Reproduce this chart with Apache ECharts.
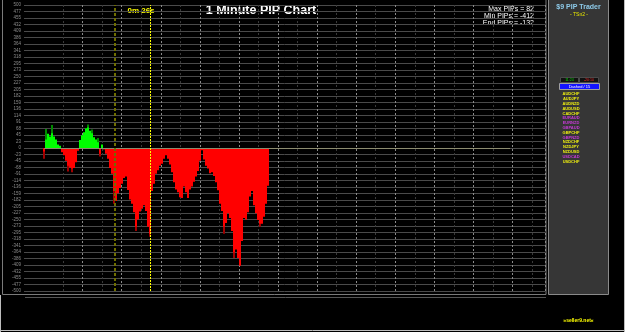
<!DOCTYPE html>
<html>
<head>
<meta charset="utf-8">
<script src="https://cdn.jsdelivr.net/npm/echarts@6/dist/echarts.min.js"></script>
<style>
html,body{margin:0;padding:0;background:#000}
#chart{width:625px;height:332px}
</style>
</head>
<body>
<div id="chart"></div>
<script>
// pips per 1-minute sample, oldest first
const pips = [
  -12, 30, 50, 40, 52, 40, 30, 12, 8, -15,
  -25, -45, -62, -68, -72, -70, -50, -10, 28, 45,
  55, 68, 72, 60, 52, 38, 30, 20, -20, 12,
  -5, -20, -38, -70, -90, -150, -185, -158, -140, -125,
  -105, -100, -147, -180, -195, -225, -275, -250, -222, -212,
  -200, -220, -275, -300, -150, -125, -90, -78, -62, -55,
  -38, -25, -38, -58, -85, -120, -145, -155, -172, -175,
  -135, -155, -175, -145, -135, -118, -100, -80, -45, -8,
  -40, -62, -72, -88, -85, -98, -120, -148, -195, -220,
  -275, -262, -228, -245, -290, -365, -355, -385, -412, -325,
  -245, -250, -225, -170, -150, -200, -228, -252, -265, -265,
  -240, -195, -132
]
// extreme spikes (sample index -> pips)
const wickIdx = [0, 1, 4, 12, 14, 21, 22, 24, 27, 28, 35, 46, 53, 90, 95, 108]
const wickPips = [-38, 66, 80, -82, -85, 70, 82, 65, 35, -30, -195, -290, -310, -300, -385, -275]

const pairs = ['AUDCHF','AUDJPY','AUDNZD','AUDUSD','CADCHF','EURAUD','EURNZD','GBPAUD',
  'GBPCHF','GBPNZD','NZDCHF','NZDJPY','NZDUSD','USDCAD','USDCHF']
const altPairs = ['EURAUD','EURNZD','GBPAUD','GBPNZD','USDCAD']

const elapsed = '0m 26s'
const clockUp = '11:24'
const clockDown = '-20:10'
const modeLabel = 'Dashed / 15'

// axis setup (sample units / pips)
const startSample = 10
const lastSample = 260.5
const samplesPerCell = 9.77
const markerDim = 45.5
const markerNow = 63
const zeroEnd = 243
const yMax = 500
const yStep = 500 / 22

const chart = echarts.init(document.getElementById('chart'))

const mainData = pips.map((v, k) => [startSample + k, v])
const wickData = wickIdx.map((k, i) => [startSample + k, wickPips[i]])
const allVals = pips.concat(wickPips)
const maxP = Math.max(...allVals)
const minP = Math.min(...allVals)
const endP = pips[pips.length - 1]

// vertical grid: alternate dim / bright, first two hidden
const vColors = []
for (let i = 0; i < 30; i++) {
  vColors.push(i < 2 ? 'rgba(0,0,0,0)' : (i % 2 === 0 ? '#3a3a3a' : '#8a8a8a'))
}

const txt = (x, y, text, size, color, opts) => Object.assign({
  type: 'text', x: x, y: y, silent: true,
  style: Object.assign({
    text: text, fill: color, font: size + 'px "Liberation Sans", Arial, sans-serif',
    align: 'center', verticalAlign: 'middle'
  }, opts || {})
})

const graphics = [
  // outer frame
  {type:'rect', silent:true, shape:{x:2.5, y:-0.5, width:543.5, height:295}, style:{fill:'none', stroke:'#7a7a7a', lineWidth:1}},
  {type:'line', silent:true, shape:{x1:25, y1:297.5, x2:546, y2:297.5}, style:{stroke:'#555', lineWidth:1}},
  // window edges
  {type:'line', silent:true, shape:{x1:624.5, y1:0, x2:624.5, y2:332}, style:{stroke:'#bdbdbd', lineWidth:1}},
  {type:'line', silent:true, shape:{x1:0, y1:330.5, x2:625, y2:330.5}, style:{stroke:'#bdbdbd', lineWidth:1}},
  {type:'line', silent:true, shape:{x1:0.5, y1:295, x2:0.5, y2:332}, style:{stroke:'#bdbdbd', lineWidth:1}},
  // side panel
  {type:'rect', silent:true, shape:{x:548.5, y:-0.5, width:60, height:295}, style:{fill:'#363636', stroke:'#8a8a8a', lineWidth:1}},
  txt(578.5, 7, '$9 PIP Trader', 7, '#8ecbea', {font:'bold 7px "Liberation Sans", Arial, sans-serif'}),
  txt(579, 14.5, '- TSn2 -', 5, '#e6e600'),
  {type:'rect', silent:true, shape:{x:560.5, y:77.5, width:18, height:5}, style:{fill:'#111', stroke:'#4a4a4a', lineWidth:1}},
  {type:'rect', silent:true, shape:{x:579.5, y:77.5, width:19, height:5}, style:{fill:'#111', stroke:'#4a4a4a', lineWidth:1}},
  txt(569.5, 80, clockUp, 3.6, '#00e000'),
  txt(589, 80, clockDown, 3.6, '#ff2a2a'),
  {type:'rect', silent:true, shape:{x:559.5, y:83.5, width:40, height:6}, style:{fill:'#1414ff', stroke:'#a0a0a0', lineWidth:1}},
  txt(579.5, 86.6, modeLabel, 4, '#ffffff'),
  txt(578.5, 321, '\u00bbseller9.net\u00ab', 5, '#ffff00', {font:'bold 5px "Liberation Sans", Arial, sans-serif'}),
  // header texts
  txt(141, 10.5, elapsed, 8, '#ffff00', {font:'bold 8px "Liberation Sans", Arial, sans-serif'}),
  txt(261, 10.5, '1 Minute PIP Chart', 12.5, '#ffffff', {font:'bold 12.5px "Liberation Sans", Arial, sans-serif'}),
  txt(534, 9, 'Max PIPs = ' + maxP, 7, '#ffffff', {align:'right'}),
  txt(534, 15.8, 'Min PIPs = ' + minP, 7, '#ffffff', {align:'right'}),
  txt(534, 22.7, 'End PIPs = ' + endP, 7, '#ffffff', {align:'right'})
]
pairs.forEach((p, i) => {
  graphics.push(txt(571, 94.3 + i * 4.8, p, 4, altPairs.includes(p) ? '#c83ad8' : '#eeee10',
    {font:'bold 4px "Liberation Sans", Arial, sans-serif'}))
})

const option = {
  backgroundColor: '#000',
  animation: false,
  grid: {left: 24, top: 5, width: 521, height: 286, containLabel: false},
  xAxis: [
    {
      type: 'value', min: 0, max: lastSample,
      axisLine: {show: false}, axisTick: {show: false}, axisLabel: {show: false},
      splitLine: {show: false}
    },
    {
      // grid cells: one cell = samplesPerCell samples
      type: 'value', min: 0, max: lastSample / samplesPerCell, interval: 1,
      axisLine: {show: false}, axisTick: {show: false}, axisLabel: {show: false},
      splitLine: {show: true, lineStyle: {color: vColors, width: 1, type: [2, 2]}}
    }
  ],
  yAxis: {
    type: 'value', min: -yMax, max: yMax, interval: yStep,
    axisLine: {show: false}, axisTick: {show: false},
    axisLabel: {
      color: '#8c8c8c', fontSize: 4.5, margin: 3, fontFamily: '"Liberation Sans", Arial, sans-serif',
      formatter: v => String(Math.round(v))
    },
    splitLine: {show: true, lineStyle: {color: '#4a4a4a', width: 1}}
  },
  graphic: graphics,
  series: [
    {
      type: 'bar', data: wickData, barWidth: 2, barGap: '-100%', silent: true,
      itemStyle: {color: p => p.value[1] >= 0 ? '#008a00' : '#a00000'}
    },
    {
      type: 'bar', data: mainData, barWidth: 2, barGap: '-100%', silent: true,
      itemStyle: {color: p => p.value[1] >= 0 ? '#00ff00' : '#ff0000'},
      markLine: {
        symbol: 'none', silent: true, animation: false, label: {show: false},
        lineStyle: {color: '#8c8c70', width: 1, type: 'solid'},
        data: [
          [{coord: [startSample, 0]}, {coord: [zeroEnd, 0]}],
          {xAxis: markerDim, lineStyle: {color: '#6e6e00', width: 2, type: [3, 2]}},
          {xAxis: markerNow, lineStyle: {color: '#ffff00', width: 1, type: [2, 1]}}
        ]
      }
    }
  ]
}
chart.setOption(option)
</script>
</body>
</html>
